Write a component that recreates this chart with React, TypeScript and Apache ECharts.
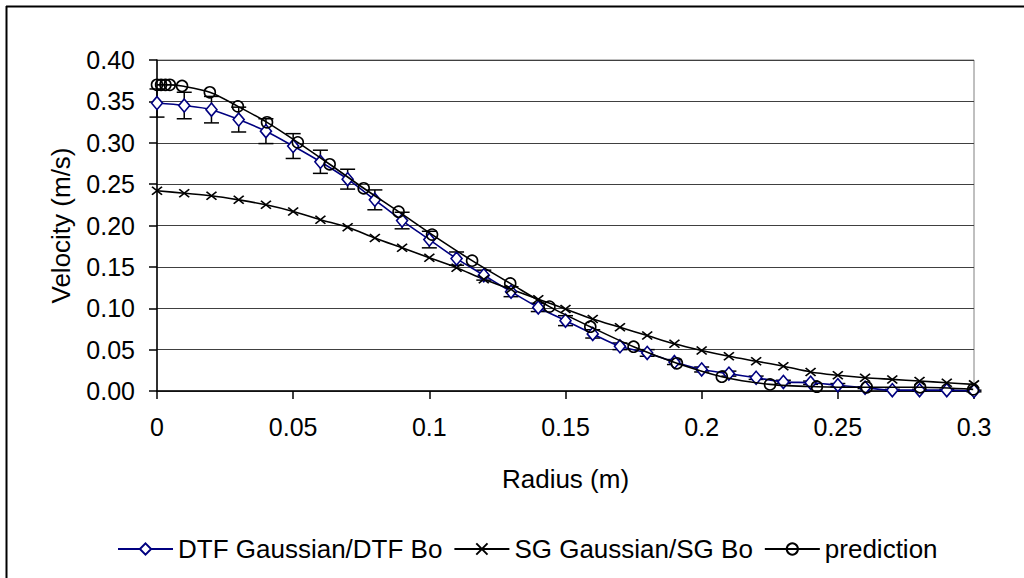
import React, { useEffect, useRef } from "react";
import * as echarts from "echarts";

const radius = [0, 0.01, 0.02, 0.03, 0.04, 0.05, 0.06, 0.07, 0.08, 0.09, 0.1, 0.11, 0.12, 0.13, 0.14, 0.15, 0.16, 0.17, 0.18, 0.19, 0.2, 0.21, 0.22, 0.23, 0.24, 0.25, 0.26, 0.27, 0.28, 0.29, 0.3];
const dtfValues = [0.348, 0.345, 0.34, 0.328, 0.314, 0.296, 0.277, 0.256, 0.231, 0.206, 0.183, 0.16, 0.14, 0.12, 0.101, 0.085, 0.069, 0.054, 0.046, 0.035, 0.026, 0.021, 0.016, 0.011, 0.01, 0.007, 0.004, 0.001, 0.001, 0.001, 0.0];
const dtfErrors = [0.017, 0.016, 0.016, 0.015, 0.015, 0.015, 0.014, 0.012, 0.012, 0.01, 0.01, 0.008, 0.006, 0.006, 0.005, 0.006, 0.005, 0.004, 0.004, 0.003, 0.003, 0.003, 0.002, 0.002, 0.002, 0.002, 0.001, 0.001, 0.001, 0.001, 0.001];
const sgValues = [0.242, 0.239, 0.236, 0.231, 0.225, 0.217, 0.207, 0.198, 0.185, 0.173, 0.161, 0.149, 0.135, 0.123, 0.111, 0.099, 0.087, 0.077, 0.067, 0.057, 0.049, 0.042, 0.036, 0.03, 0.023, 0.019, 0.016, 0.014, 0.012, 0.01, 0.008];
const predRadius = [0, 0.0015, 0.0031, 0.0047, 0.0092, 0.0194, 0.0297, 0.0404, 0.0517, 0.0634, 0.0759, 0.0887, 0.101, 0.1157, 0.1297, 0.1441, 0.1591, 0.175, 0.1909, 0.2074, 0.2251, 0.2423, 0.2606, 0.2802, 0.2997];
const predValues = [0.37, 0.37, 0.37, 0.37, 0.3686, 0.361, 0.344, 0.3247, 0.3005, 0.274, 0.245, 0.2167, 0.189, 0.1575, 0.13, 0.102, 0.0777, 0.0535, 0.0335, 0.0173, 0.008, 0.0052, 0.0045, 0.0045, 0.002];

const seriesNames = ["DTF Gaussian/DTF Bo", "SG Gaussian/SG Bo", "prediction"];
const FONT = "Liberation Sans, Arial, sans-serif";

export default function App() {
  const ref = useRef<HTMLDivElement>(null);
  useEffect(() => {
    if (!ref.current) return;
    const chart = echarts.init(ref.current, null, { renderer: "svg" });
    const errData = radius.map((x, i) => [x, dtfValues[i] - dtfErrors[i], dtfValues[i] + dtfErrors[i]]);
    chart.setOption({
      animation: false,
      backgroundColor: "#fff",
      textStyle: { fontFamily: FONT, color: "#000" },
      graphic: [
        { type: "line", shape: { x1: 6, y1: 6.5, x2: 1024, y2: 6.5 }, style: { stroke: "#000", lineWidth: 2 } },
        { type: "line", shape: { x1: 6.5, y1: 6, x2: 6.5, y2: 578 }, style: { stroke: "#000", lineWidth: 2 } },
      ],
      grid: {
        left: 157,
        right: 50,
        top: 60,
        bottom: 187,
        show: true,
        borderColor: "#808080",
        borderWidth: 1,
        backgroundColor: "#fff",
      },
      legend: {
        data: seriesNames,
        left: 112,
        top: 531,
        itemWidth: 55,
        itemHeight: 14,
        itemGap: 11,
        textStyle: { fontFamily: FONT, fontSize: 26, color: "#000" },
      },
      xAxis: {
        type: "value",
        min: 0,
        max: 0.3,
        interval: 0.05,
        name: "Radius (m)",
        nameLocation: "middle",
        nameGap: 75,
        nameTextStyle: { fontFamily: FONT, fontSize: 26, color: "#000" },
        axisLine: { show: true, onZero: false, lineStyle: { color: "#000", width: 1.5 } },
        axisTick: { show: true, inside: false, length: 8, lineStyle: { color: "#000", width: 1.5 } },
        axisLabel: { margin: 23, fontFamily: FONT, fontSize: 25, color: "#000" },
        splitLine: { show: false },
      },
      yAxis: {
        type: "value",
        min: 0,
        max: 0.4,
        interval: 0.05,
        name: "Velocity (m/s)",
        nameLocation: "middle",
        nameRotate: 90,
        nameGap: 83,
        nameTextStyle: { fontFamily: FONT, fontSize: 26, color: "#000" },
        axisLine: { show: true, onZero: false, lineStyle: { color: "#000", width: 1.5 } },
        axisTick: { show: true, inside: false, length: 8, lineStyle: { color: "#000", width: 1.5 } },
        axisLabel: {
          margin: 22,
          fontFamily: FONT,
          fontSize: 25,
          color: "#000",
          formatter: (v: number) => v.toFixed(2),
        },
        splitLine: { show: true, lineStyle: { color: "#404040", width: 1 } },
      },
      series: [
        {
          type: "custom",
          name: "errors",
          data: errData,
          encode: { x: 0, y: [1, 2] },
          z: 3,
          renderItem: (params: any, api: any) => {
            const x = api.value(0);
            const lo = api.coord([x, api.value(1)]);
            const hi = api.coord([x, api.value(2)]);
            const hw = 7.5;
            const st = { stroke: "#000", lineWidth: 1.5 };
            return {
              type: "group",
              children: [
                { type: "line", shape: { x1: lo[0], y1: lo[1], x2: hi[0], y2: hi[1] }, style: st },
                { type: "line", shape: { x1: lo[0] - hw, y1: lo[1], x2: lo[0] + hw, y2: lo[1] }, style: st },
                { type: "line", shape: { x1: hi[0] - hw, y1: hi[1], x2: hi[0] + hw, y2: hi[1] }, style: st },
              ],
            };
          },
        },
        {
          type: "line",
          name: seriesNames[0],
          data: radius.map((x, i) => [x, dtfValues[i]]),
          smooth: 0.3,
          symbol: "diamond",
          symbolSize: [11, 13],
          z: 4,
          lineStyle: { color: "#000080", width: 1.6 },
          itemStyle: { color: "#ffffff", borderColor: "#000080", borderWidth: 1.6 },
        },
        {
          type: "line",
          name: seriesNames[1],
          data: radius.map((x, i) => [x, sgValues[i]]),
          smooth: 0.3,
          symbol: "path://M0,0L10,8M10,0L0,8",
          symbolSize: [10, 8],
          z: 4,
          lineStyle: { color: "#000", width: 1.6 },
          itemStyle: { color: "none", borderColor: "#000", borderWidth: 1.6 },
        },
        {
          type: "line",
          name: seriesNames[2],
          data: predRadius.map((x, i) => [x, predValues[i]]),
          smooth: 0.3,
          symbol: "circle",
          symbolSize: 11,
          z: 5,
          lineStyle: { color: "#000", width: 1.6 },
          itemStyle: { color: "none", borderColor: "#000", borderWidth: 1.6 },
        },
      ],
    });
    return () => chart.dispose();
  }, []);
  return (
    <div
      ref={ref}
      style={{ position: "absolute", left: 0, top: 0, width: 1024, height: 578 }}
    />
  );
}
